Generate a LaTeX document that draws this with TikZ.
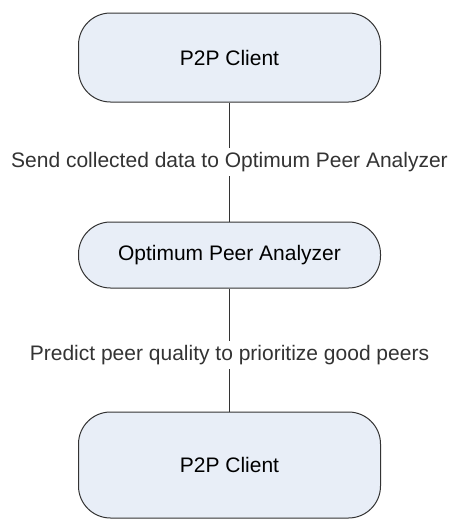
\documentclass[tikz,border=0pt]{standalone}
\usepackage{fontspec}
\setmainfont{Liberation Sans}
\usetikzlibrary{positioning}
\definecolor{boxblue}{RGB}{232,238,247}

\begin{document}
\begin{tikzpicture}[x=0.5pt, y=-0.5pt,
  box/.style = {shape=rectangle, rounded corners=16pt, draw=black!80,
    line width=0.5pt, fill=boxblue, minimum width=151pt, align=center,
    font=\fontsize{10.5}{12.6}\selectfont},
  msg/.style = {fill=white, inner sep=2pt,
    font=\fontsize{10.5}{12.6}\selectfont}]
  \useasboundingbox (0,0) rectangle (452,520);
  \node[box, minimum height=44.5pt] (client1) at (229.5,57.5) {P2P Client};
  \node[box, minimum height=33pt] (analyzer) at (229.5,255) {Optimum Peer Analyzer};
  \node[box, minimum height=53pt] (client2) at (229.5,465) {P2P Client};
  \draw[black!80, line width=0.5pt] (client1) -- node[msg] {Send collected data to Optimum Peer Analyzer} (analyzer);
  \draw[black!80, line width=0.5pt] (analyzer) -- node[msg, pos=0.54] {Predict peer quality to prioritize good peers} (client2);
\end{tikzpicture}
\end{document}
